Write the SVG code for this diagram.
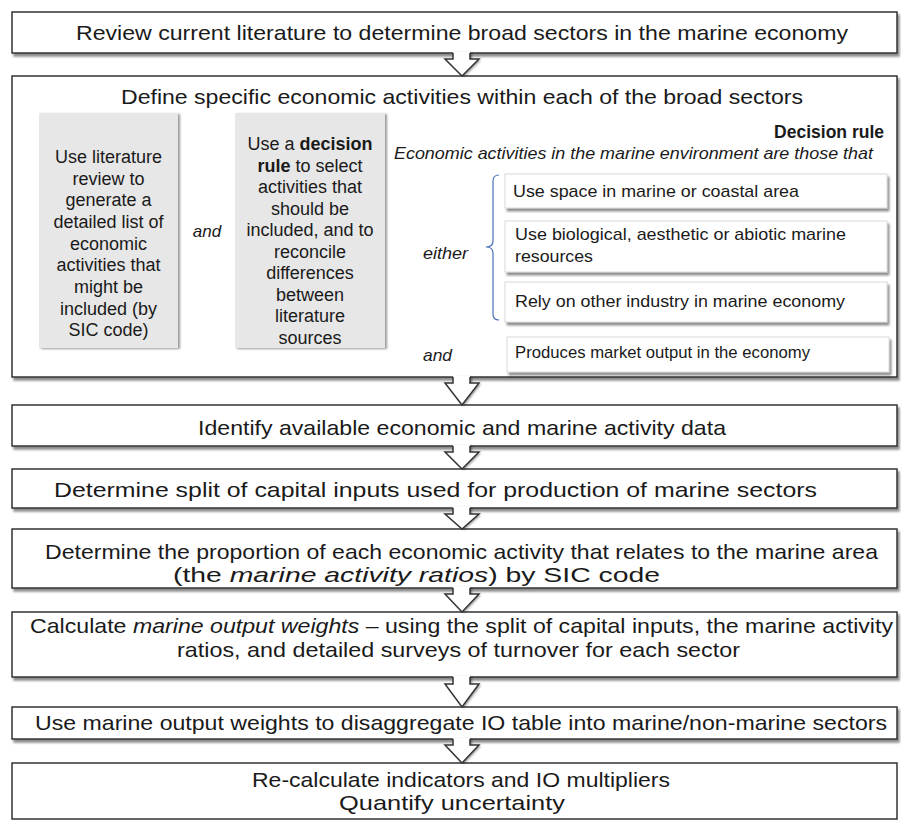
<svg xmlns="http://www.w3.org/2000/svg" width="901" height="821" viewBox="0 0 901 821">
<defs>
<filter id="sh" x="-5%" y="-20%" width="110%" height="150%">
<feDropShadow dx="2" dy="3" stdDeviation="1.2" flood-color="#000" flood-opacity="0.45"/>
</filter>
<filter id="sh2" x="-10%" y="-10%" width="120%" height="120%">
<feDropShadow dx="2" dy="1" stdDeviation="1" flood-color="#000" flood-opacity="0.4"/>
</filter>
</defs>
<style>
text{font-family:"Liberation Sans",Arial,sans-serif;fill:#1a1a1a}
.box{fill:#fff;stroke:#333;stroke-width:1.5}
.gray{fill:#e7e7e7;stroke:none}
.rule{fill:#fff;stroke:#d0d0d0;stroke-width:0.8}
.h{font-size:21px}
.g{font-size:18px;text-anchor:middle}
.r{font-size:17px}
.it{font-style:italic}
.b{font-weight:bold}
.af{fill:#fff;stroke:none}
.as{fill:none;stroke:#333;stroke-width:1.5;stroke-linejoin:miter}
</style>

<g id="step1">
<rect class="box" x="12" y="12" width="885" height="41" filter="url(#sh)"/>
<text class="h" x="76" y="40" textLength="772" lengthAdjust="spacingAndGlyphs">Review current literature to determine broad sectors in the marine economy</text>
</g>

<g id="step2">
<rect class="box" x="12" y="76" width="885" height="301" filter="url(#sh)"/>
<text class="h" x="121" y="104" textLength="682" lengthAdjust="spacingAndGlyphs">Define specific economic activities within each of the broad sectors</text>
</g>

<g id="literature-list">
<rect class="gray" x="39" y="113" width="139" height="235" filter="url(#sh2)"/>
<text class="g" x="108.5" y="163">Use literature</text>
<text class="g" x="108.5" y="184.7">review to</text>
<text class="g" x="108.5" y="206.3">generate a</text>
<text class="g" x="108.5" y="228">detailed list of</text>
<text class="g" x="108.5" y="249.7">economic</text>
<text class="g" x="108.5" y="271.3">activities that</text>
<text class="g" x="108.5" y="293">might be</text>
<text class="g" x="108.5" y="314.7">included (by</text>
<text class="g" x="108.5" y="336.3">SIC code)</text>
</g>

<g id="and-1">
<text class="it" x="207" y="237" font-size="17" text-anchor="middle">and</text>
</g>

<g id="decision-box">
<rect class="gray" x="235" y="113" width="150" height="235" filter="url(#sh2)"/>
<text class="g" x="310" y="150">Use a <tspan class="b">decision</tspan></text>
<text class="g" x="310" y="171.5"><tspan class="b">rule</tspan> to select</text>
<text class="g" x="310" y="193">activities that</text>
<text class="g" x="310" y="214.5">should be</text>
<text class="g" x="310" y="236">included, and to</text>
<text class="g" x="310" y="257.5">reconcile</text>
<text class="g" x="310" y="279">differences</text>
<text class="g" x="310" y="300.5">between</text>
<text class="g" x="310" y="322">literature</text>
<text class="g" x="310" y="343.5">sources</text>
</g>

<g id="decision-rule">
<text class="b" x="884" y="138" font-size="17.5" text-anchor="end">Decision rule</text>
<text class="it" x="394" y="159" font-size="17" textLength="479" lengthAdjust="spacingAndGlyphs">Economic activities in the marine environment are those that</text>
<text class="it" x="423" y="259" font-size="17" textLength="45" lengthAdjust="spacingAndGlyphs">either</text>
<path d="M499,175 Q493,175 493,181 L493,241 Q493,247 486,247 Q493,247 493,253 L493,314 Q493,320 499,320" fill="none" stroke="#4a6fb8" stroke-width="1.2"/>
</g>

<g id="rule-space">
<rect class="rule" x="505" y="174" width="382" height="34" filter="url(#sh)"/>
<text class="r" x="513" y="197" textLength="286" lengthAdjust="spacingAndGlyphs">Use space in marine or coastal area</text>
</g>

<g id="rule-resources">
<rect class="rule" x="505" y="221" width="382" height="51" filter="url(#sh)"/>
<text class="r" x="515" y="240" textLength="331" lengthAdjust="spacingAndGlyphs">Use biological, aesthetic or abiotic marine</text>
<text class="r" x="515" y="262" textLength="78" lengthAdjust="spacingAndGlyphs">resources</text>
</g>

<g id="rule-rely">
<rect class="rule" x="505" y="282" width="382" height="40" filter="url(#sh)"/>
<text class="r" x="515" y="307" textLength="330" lengthAdjust="spacingAndGlyphs">Rely on other industry in marine economy</text>
</g>

<g id="and-2">
<text class="it" x="423" y="361" font-size="17" textLength="29" lengthAdjust="spacingAndGlyphs">and</text>
</g>

<g id="rule-market">
<rect class="rule" x="507" y="337" width="382" height="35" filter="url(#sh)"/>
<text class="r" x="515" y="358" textLength="295" lengthAdjust="spacingAndGlyphs">Produces market output in the economy</text>
</g>

<g id="step3">
<rect class="box" x="12" y="405" width="885" height="41" filter="url(#sh)"/>
<text class="h" x="198" y="435" textLength="528" lengthAdjust="spacingAndGlyphs">Identify available economic and marine activity data</text>
</g>

<g id="step4">
<rect class="box" x="12" y="469" width="885" height="39" filter="url(#sh)"/>
<text class="h" x="54" y="497" textLength="763" lengthAdjust="spacingAndGlyphs">Determine split of capital inputs used for production of marine sectors</text>
</g>

<g id="step5">
<rect class="box" x="12" y="529" width="885" height="59" filter="url(#sh)"/>
<text class="h" x="45" y="559" textLength="833" lengthAdjust="spacingAndGlyphs">Determine the proportion of each economic activity that relates to the marine area</text>
<text class="h" x="173" y="582" textLength="487" lengthAdjust="spacingAndGlyphs">(the <tspan class="it">marine activity ratios</tspan>) by SIC code</text>
</g>

<g id="step6">
<rect class="box" x="12" y="612" width="885" height="65" filter="url(#sh)"/>
<text class="h" x="30" y="633" textLength="863" lengthAdjust="spacingAndGlyphs">Calculate <tspan class="it">marine output weights</tspan> – using the split of capital inputs, the marine activity</text>
<text class="h" x="177" y="657" textLength="563" lengthAdjust="spacingAndGlyphs">ratios, and detailed surveys of turnover for each sector</text>
</g>

<g id="step7">
<rect class="box" x="12" y="707" width="885" height="32" filter="url(#sh)"/>
<text class="h" x="35" y="730" textLength="852" lengthAdjust="spacingAndGlyphs">Use marine output weights to disaggregate IO table into marine/non-marine sectors</text>
</g>

<g id="step8">
<rect class="box" x="12" y="763" width="885" height="56"/>
<text class="h" x="252" y="787" textLength="418" lengthAdjust="spacingAndGlyphs">Re-calculate indicators and IO multipliers</text>
<text class="h" x="339" y="810" textLength="226" lengthAdjust="spacingAndGlyphs">Quantify uncertainty</text>
</g>

<g id="connectors">
<g filter="url(#sh2)">
<path class="af" d="M453,52 V59 H445 L462,76 L479,59 H470 V52 Z"/>
<path class="af" d="M453,376 V383 H445 L462,405 L479,383 H470 V376 Z"/>
<path class="af" d="M453,445 V452 H445 L462,469 L479,452 H470 V445 Z"/>
<path class="af" d="M453,507 V514 H445 L462,529 L479,514 H470 V507 Z"/>
<path class="af" d="M453,587 V594 H445 L462,612 L479,594 H470 V587 Z"/>
<path class="af" d="M453,676 V684 H445 L462,707 L479,684 H470 V676 Z"/>
<path class="af" d="M453,738 V745 H445 L462,763 L479,745 H470 V738 Z"/>
</g>
<path class="as" d="M453,53 V59 H445 L462,76 L479,59 H470 V53"/>
<path class="as" d="M453,377 V383 H445 L462,405 L479,383 H470 V377"/>
<path class="as" d="M453,446 V452 H445 L462,469 L479,452 H470 V446"/>
<path class="as" d="M453,508 V514 H445 L462,529 L479,514 H470 V508"/>
<path class="as" d="M453,588 V594 H445 L462,612 L479,594 H470 V588"/>
<path class="as" d="M453,677 V684 H445 L462,707 L479,684 H470 V677"/>
<path class="as" d="M453,739 V745 H445 L462,763 L479,745 H470 V739"/>
</g>
</svg>
